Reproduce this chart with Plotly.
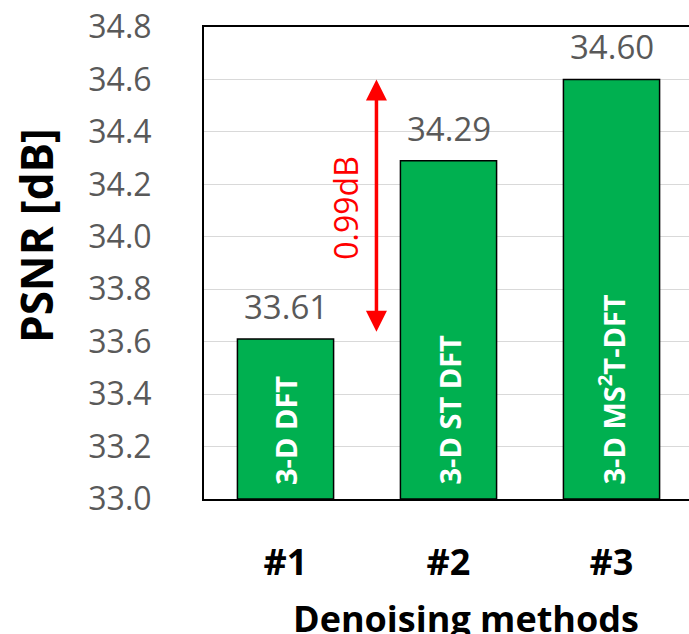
import plotly.graph_objects as go

# PSNR of the three denoising methods
categories = ["#1", "#2", "#3"]
method_names = ["3-D DFT", "3-D ST DFT", "3-D MS<sup>2</sup>T-DFT"]
psnr_values = [33.61, 34.29, 34.60]
y_ticks = [33.0, 33.2, 33.4, 33.6, 33.8, 34.0, 34.2, 34.4, 34.6, 34.8]
gain_label = "0.99dB"

FONT = "Open Sans"
GREEN = "#00B050"
GRAY = "#595959"
Y_FLOOR = 33.0

W, H = 689, 634
L, T, B, R = 204, 27, 135, 0
plot_w = W - L - R
plot_h = H - B - T
cat_px = 163.0

fig = go.Figure()
fig.add_trace(go.Bar(
    x=categories,
    y=[v - Y_FLOOR for v in psnr_values],
    base=Y_FLOOR,
    width=0.59,
    marker=dict(color=GREEN, line=dict(color="black", width=1.5)),
    hoverinfo="skip",
))

# value labels above bars
for cat, v in zip(categories, psnr_values):
    fig.add_annotation(x=cat, y=v, text=f"{v:.2f}", showarrow=False,
                       yanchor="bottom", yshift=8,
                       font=dict(family=FONT, size=33, color=GRAY))

# method names inside bars
for cat, name in zip(categories, method_names):
    fig.add_annotation(x=cat, y=Y_FLOOR, text=f"<b>{name}</b>", showarrow=False,
                       textangle=-90, yanchor="bottom", yshift=12,
                       font=dict(family=FONT, size=29, color="white"))

# double-headed arrow spanning the PSNR gain
arrow_x = 0.558
fig.add_annotation(x=arrow_x, y=psnr_values[2], ax=arrow_x, ay=33.632,
                   xref="x", yref="y", axref="x", ayref="y",
                   showarrow=True, arrowhead=2, arrowside="end+start",
                   arrowsize=1.2, arrowwidth=3.5, arrowcolor="red",
                   text="", standoff=0, startstandoff=0)
fig.add_annotation(x=0.37, y=34.11, xref="x", yref="y", text=gain_label,
                   showarrow=False, textangle=-90,
                   font=dict(family=FONT, size=32, color="red"))

# axis titles
fig.add_annotation(xref="paper", yref="paper", x=(36 - L) / plot_w,
                   y=(H - B - 236) / plot_h, xanchor="center", yanchor="middle",
                   text="<b>PSNR [dB]</b>", showarrow=False, textangle=-90,
                   font=dict(family=FONT, size=44, color="black"))
fig.add_annotation(xref="paper", yref="paper", x=(466 - L) / plot_w,
                   y=(H - B - 592) / plot_h, xanchor="center", yanchor="top",
                   text="<b>Denoising methods</b>", showarrow=False,
                   font=dict(family=FONT, size=36, color="black"))

fig.update_layout(
    width=W, height=H,
    margin=dict(l=L, r=R, t=T, b=B, pad=0),
    plot_bgcolor="white", paper_bgcolor="white",
    showlegend=False,
)
fig.update_xaxes(
    type="category",
    range=[-0.5, -0.5 + plot_w / cat_px],
    showline=True, mirror=True, linecolor="black", linewidth=2,
    showgrid=False, ticks="",
    ticklabelstandoff=31,
    tickfont=dict(family=FONT, size=36, color="black", weight="bold"),
)
fig.update_yaxes(
    range=[Y_FLOOR, 34.8],
    tickvals=y_ticks, ticktext=[f"{t:.1f}" for t in y_ticks],
    showline=True, mirror=False, linecolor="black", linewidth=2,
    showgrid=True, gridcolor="#D9D9D9", gridwidth=1,
    zeroline=False, ticks="",
    ticklabelstandoff=44,
    tickfont=dict(family=FONT, size=32, color=GRAY),
)

fig.write_html("out.html")
